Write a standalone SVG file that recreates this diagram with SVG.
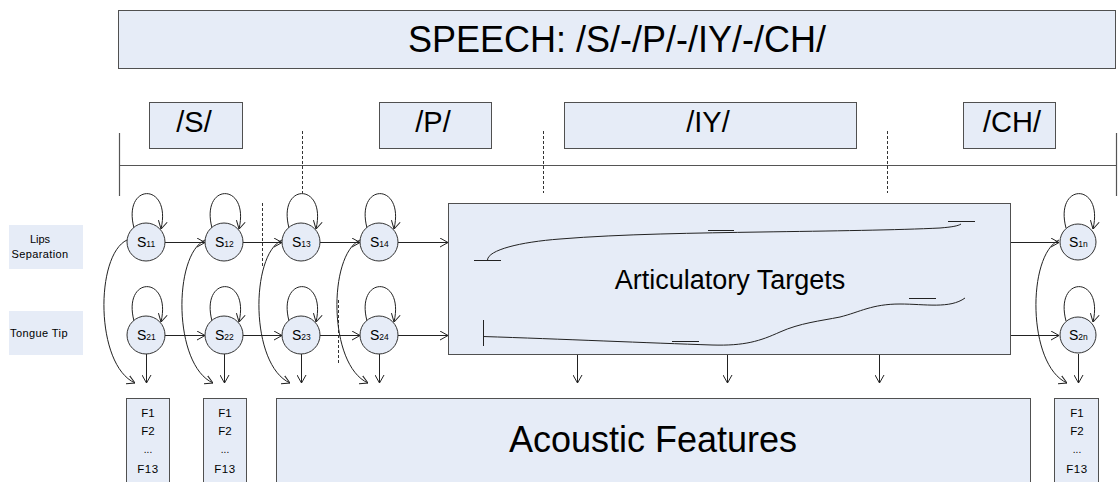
<svg xmlns="http://www.w3.org/2000/svg" width="1119" height="482" viewBox="0 0 1119 482">
<defs>
<style>
.box{fill:#e6ecf7;stroke:#505050;stroke-width:1}
.lbl{fill:#e6ecf7;stroke:none}
.ln{fill:none;stroke:#222;stroke-width:1}
.tl{fill:none;stroke:#555;stroke-width:1.2}
.dash{fill:none;stroke:#333;stroke-width:1;stroke-dasharray:3,2}
.st{fill:#e6ecf7;stroke:#333;stroke-width:1}
.t{font-family:"Liberation Sans",Arial,sans-serif;fill:#000}
.c{text-anchor:middle}
</style>
<marker id="ah" viewBox="0 0 8 10" refX="8" refY="5" markerWidth="8" markerHeight="10" markerUnits="userSpaceOnUse" orient="auto">
<path d="M0,0.5 L8,5 L0,9.5" fill="none" stroke="#222" stroke-width="1"/>
</marker>
</defs>
<rect width="1119" height="482" fill="#fff"/>

<g id="speech">
<rect class="box" x="118.5" y="10.5" width="997" height="58"/>
<text class="t c" x="617" y="52" font-size="36">SPEECH: /S/-/P/-/IY/-/CH/</text>
</g>

<g id="phonemes">
<g id="ph-s"><rect class="box" x="149.5" y="102.5" width="93" height="46"/><text class="t c" x="194" y="132" font-size="29">/S/</text></g>
<g id="ph-p"><rect class="box" x="379.5" y="102.5" width="112" height="46"/><text class="t c" x="433" y="132" font-size="29">/P/</text></g>
<g id="ph-iy"><rect class="box" x="564.5" y="102.5" width="292" height="46"/><text class="t c" x="708" y="132" font-size="29">/IY/</text></g>
<g id="ph-ch"><rect class="box" x="963.5" y="102.5" width="92" height="46"/><text class="t c" x="1012" y="132" font-size="29">/CH/</text></g>
</g>

<g id="timeline">
<line class="tl" x1="119" y1="165.5" x2="1116" y2="165.5"/>
<line class="tl" x1="119.5" y1="133" x2="119.5" y2="196"/>
<line class="tl" x1="1116.5" y1="133" x2="1116.5" y2="196"/>
<line class="dash" x1="302.5" y1="131" x2="302.5" y2="193"/>
<line class="dash" x1="543.5" y1="131" x2="543.5" y2="193"/>
<line class="dash" x1="887.5" y1="131" x2="887.5" y2="193"/>
<line class="dash" x1="262.5" y1="203" x2="262.5" y2="267"/>
<line class="dash" x1="338.5" y1="300" x2="338.5" y2="363"/>
</g>

<g id="label-lips">
<rect class="lbl" x="9" y="225" width="74" height="44"/>
<text class="t c" x="40" y="243" font-size="11">Lips</text>
<text class="t c" x="40" y="258" font-size="11" letter-spacing="0.4">Separation</text>
</g>
<g id="label-tongue">
<rect class="lbl" x="9" y="311" width="74" height="44"/>
<text class="t c" x="39" y="337" font-size="11" letter-spacing="0.4">Tongue Tip</text>
</g>

<g id="artic">
<rect class="box" x="448.5" y="203.5" width="562" height="151"/>
<text class="t c" x="730" y="289" font-size="27">Articulatory Targets</text>
<g class="ln">
<line x1="474" y1="260.5" x2="501" y2="260.5"/>
<path d="M487.5,260 C488,250 520,242 560,239 C620,234 700,233 761,232 C830,231 900,230 940,228 C952,227 958,226 961,224"/>
<line x1="708" y1="230.5" x2="734" y2="230.5"/>
<line x1="948" y1="221.5" x2="975" y2="221.5"/>
<line x1="483.5" y1="320" x2="483.5" y2="346"/>
<path d="M483,336.5 C560,339 650,343 712,345 C745,346 760,341 780,332 C800,323 820,321 840,317 C860,312 872,304 900,304 C925,304 950,309 965,298"/>
<line x1="672" y1="341.5" x2="699" y2="341.5"/>
<line x1="909" y1="298.5" x2="936" y2="298.5"/>
</g>
</g>

<g id="acoustic">
<rect class="box" x="276.5" y="398.5" width="754" height="100"/>
<text class="t c" x="653" y="452" font-size="36">Acoustic Features</text>
</g>

<g id="f1">
<rect class="box" x="126.5" y="398.5" width="43" height="100"/>
<text class="t c" x="148" y="417" font-size="11.5">F1</text>
<text class="t c" x="148" y="435" font-size="11.5">F2</text>
<text class="t c" x="148" y="453" font-size="10">...</text>
<text class="t c" x="148" y="473" font-size="11.5" letter-spacing="0.5">F13</text>
</g>
<g id="f2">
<rect class="box" x="203.5" y="398.5" width="43" height="100"/>
<text class="t c" x="225" y="417" font-size="11.5">F1</text>
<text class="t c" x="225" y="435" font-size="11.5">F2</text>
<text class="t c" x="225" y="453" font-size="10">...</text>
<text class="t c" x="225" y="473" font-size="11.5" letter-spacing="0.5">F13</text>
</g>
<g id="f3">
<rect class="box" x="1054.5" y="398.5" width="44" height="100"/>
<text class="t c" x="1077" y="417" font-size="11.5">F1</text>
<text class="t c" x="1077" y="435" font-size="11.5">F2</text>
<text class="t c" x="1077" y="453" font-size="10">...</text>
<text class="t c" x="1077" y="473" font-size="11.5" letter-spacing="0.5">F13</text>
</g>

<g id="connectors" class="ln" marker-end="url(#ah)">
<!-- self loops row 1 -->
<path d="M134,228 C122,182 172,182 161,229"/>
<path d="M212,228 C200,182 250,182 239,229"/>
<path d="M289,228 C277,182 327,182 316,229"/>
<path d="M367,228 C355,182 405,182 394,229"/>
<path d="M1066,228 C1054,182 1104,182 1093,229"/>
<!-- self loops row 2 -->
<path d="M134,321 C122,275 172,275 161,322"/>
<path d="M212,321 C200,275 250,275 239,322"/>
<path d="M289,321 C277,275 327,275 316,322"/>
<path d="M367,321 C355,275 405,275 394,322"/>
<path d="M1066,321 C1054,275 1104,275 1093,322"/>
<!-- horizontal row 1 -->
<path d="M165,242.5 H205"/>
<path d="M243,242.5 H282"/>
<path d="M320,242.5 H360"/>
<path d="M398,242.5 H448"/>
<path d="M1011,242.5 H1059"/>
<!-- horizontal row 2 -->
<path d="M165,335.5 H205"/>
<path d="M243,335.5 H282"/>
<path d="M320,335.5 H360"/>
<path d="M398,335.5 H448"/>
<path d="M1011,335.5 H1059"/>
<!-- down arrows -->
<path d="M146.5,354 V383"/>
<path d="M224.5,354 V383"/>
<path d="M301.5,354 V383"/>
<path d="M379.5,354 V383"/>
<path d="M577.5,355 V383"/>
<path d="M727.5,355 V383"/>
<path d="M879.5,355 V383"/>
<path d="M1078.5,354 V383"/>
<!-- long curved arrows -->
<path d="M127,240 C95,255 95,365 135,383"/>
<path d="M205,240 C173,255 173,365 213,383"/>
<path d="M282,240 C250,255 250,365 290,383"/>
<path d="M360,240 C328,255 328,365 368,383"/>
<path d="M1059,240 C1027,255 1027,365 1067,383"/>
</g>

<g id="states">
<g id="s11"><circle class="st" cx="146" cy="242" r="19"/><text class="t" x="137" y="247" font-size="14">S<tspan font-size="8.5">11</tspan></text></g>
<g id="s12"><circle class="st" cx="224" cy="242" r="19"/><text class="t" x="215" y="247" font-size="14">S<tspan font-size="8.5">12</tspan></text></g>
<g id="s13"><circle class="st" cx="301" cy="242" r="19"/><text class="t" x="292" y="247" font-size="14">S<tspan font-size="8.5">13</tspan></text></g>
<g id="s14"><circle class="st" cx="379" cy="242" r="19"/><text class="t" x="370" y="247" font-size="14">S<tspan font-size="8.5">14</tspan></text></g>
<g id="s1n"><circle class="st" cx="1078" cy="242" r="18"/><text class="t" x="1069" y="247" font-size="14">S<tspan font-size="8.5">1n</tspan></text></g>
<g id="s21"><circle class="st" cx="146" cy="335" r="19"/><text class="t" x="137" y="340" font-size="14">S<tspan font-size="8.5">21</tspan></text></g>
<g id="s22"><circle class="st" cx="224" cy="335" r="19"/><text class="t" x="215" y="340" font-size="14">S<tspan font-size="8.5">22</tspan></text></g>
<g id="s23"><circle class="st" cx="301" cy="335" r="19"/><text class="t" x="292" y="340" font-size="14">S<tspan font-size="8.5">23</tspan></text></g>
<g id="s24"><circle class="st" cx="379" cy="335" r="19"/><text class="t" x="370" y="340" font-size="14">S<tspan font-size="8.5">24</tspan></text></g>
<g id="s2n"><circle class="st" cx="1078" cy="335" r="18"/><text class="t" x="1069" y="340" font-size="14">S<tspan font-size="8.5">2n</tspan></text></g>
</g>
</svg>
